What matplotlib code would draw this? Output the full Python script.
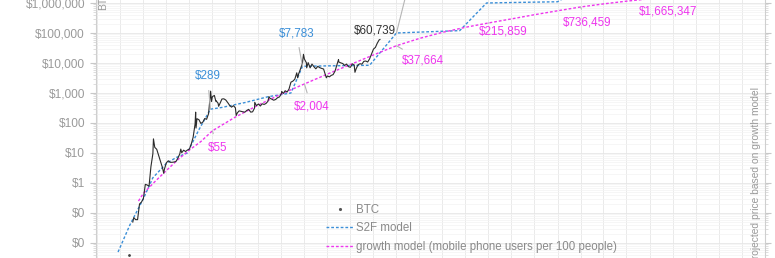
import matplotlib
matplotlib.use("Agg")
import matplotlib.pyplot as plt
import matplotlib.dates as mdates
import matplotlib.ticker as mticker
from matplotlib.lines import Line2D
import pandas as pd
import numpy as np

plt.rcParams['font.family'] = ['Liberation Sans', 'DejaVu Sans']

# ---------------- data ----------------
btc_dates = ["2010-07-17", "2010-08-01", "2010-09-01", "2010-10-01", "2010-11-01", "2010-12-01",
             "2011-01-01", "2011-02-01", "2011-03-01", "2011-04-01", "2011-05-01", "2011-06-01",
             "2011-06-10", "2011-07-01", "2011-08-01", "2011-09-01", "2011-10-01", "2011-11-01",
             "2011-11-20", "2011-12-01", "2012-01-01", "2012-02-01", "2012-03-01", "2012-04-01",
             "2012-05-01", "2012-06-01", "2012-07-01", "2012-08-01", "2012-08-17", "2012-09-01",
             "2012-10-01", "2012-11-01", "2012-12-01", "2013-01-01", "2013-02-01", "2013-03-01",
             "2013-04-01", "2013-04-10", "2013-04-16", "2013-05-01", "2013-06-01", "2013-07-01",
             "2013-08-01", "2013-09-01", "2013-10-01", "2013-11-01", "2013-12-04", "2013-12-18",
             "2014-01-01", "2014-02-01", "2014-02-25", "2014-03-01", "2014-04-01", "2014-04-10",
             "2014-05-01", "2014-06-01", "2014-07-01", "2014-08-01", "2014-09-01", "2014-10-01",
             "2014-11-01", "2014-12-01", "2015-01-01", "2015-01-14", "2015-02-01", "2015-03-01",
             "2015-04-01", "2015-05-01", "2015-06-01", "2015-07-01", "2015-08-01", "2015-09-01",
             "2015-10-01", "2015-11-01", "2015-11-04", "2015-12-01", "2016-01-01", "2016-02-01",
             "2016-03-01", "2016-04-01", "2016-05-01", "2016-06-01", "2016-06-17", "2016-07-01",
             "2016-08-01", "2016-09-01", "2016-10-01", "2016-11-01", "2016-12-01", "2017-01-01",
             "2017-01-05", "2017-02-01", "2017-03-01", "2017-04-01", "2017-05-01", "2017-06-01",
             "2017-07-01", "2017-08-01", "2017-09-01", "2017-09-15", "2017-10-01", "2017-11-01",
             "2017-12-01", "2017-12-17", "2018-01-01", "2018-02-01", "2018-02-06", "2018-03-01",
             "2018-04-01", "2018-05-01", "2018-06-01", "2018-07-01", "2018-08-01", "2018-09-01",
             "2018-10-01", "2018-11-01", "2018-12-01", "2018-12-15", "2019-01-01", "2019-02-01",
             "2019-03-01", "2019-04-01", "2019-05-01", "2019-06-01", "2019-06-26", "2019-07-01",
             "2019-08-01", "2019-09-01", "2019-10-01", "2019-11-01", "2019-12-01", "2020-01-01",
             "2020-02-01", "2020-03-01", "2020-03-13", "2020-04-01", "2020-05-01", "2020-06-01",
             "2020-07-01", "2020-08-01", "2020-09-01", "2020-10-01", "2020-11-01", "2020-12-01",
             "2021-01-01", "2021-02-01", "2021-03-01", "2021-04-01", "2021-04-14"]
btc_price = [0.05, 0.07, 0.06, 0.06, 0.20, 0.23,
             0.30, 0.90, 0.86, 0.78, 3.5, 9.5,
             29.6, 15.4, 13.3, 8.2, 5.1, 3.2,
             2.1, 2.9, 4.7, 5.5, 4.9, 4.9,
             5.0, 5.2, 6.7, 9.3, 13.5, 10.2,
             12.4, 11.2, 12.6, 13.5, 20.4, 33.4,
             93, 230, 68, 139, 129, 97,
             106, 141, 133, 204, 1150, 520,
             755, 830, 530, 550, 457, 360,
             447, 630, 640, 585, 480, 388,
             338, 378, 320, 178, 217, 254,
             244, 236, 230, 263, 285, 230,
             236, 314, 490, 378, 430, 368,
             437, 416, 448, 531, 760, 673,
             624, 575, 609, 698, 742, 963,
             1130, 970, 1190, 1080, 1348, 2300,
             2480, 2875, 4700, 3200, 4340, 6470,
             10000, 19500, 13500, 10200, 6900, 10300,
             6900, 9200, 7500, 6400, 7730, 7000,
             6600, 6300, 4000, 3200, 3700, 3450,
             3850, 4100, 5300, 8600, 13000, 10800,
             10100, 9600, 8300, 9200, 7550, 7200,
             9350, 8600, 4900, 6400, 8700, 9450,
             9140, 11350, 11650, 10780, 13800, 19700,
             29000, 33100, 45100, 58900, 60739]
btc_early_date = ["2010-05-10"]
btc_early_price = [0.004]

s2f_dates = ["2009-11-25", "2010-06-01", "2011-01-01", "2011-06-01", "2012-01-01", "2012-06-01",
             "2012-11-28", "2013-06-01", "2013-12-01", "2014-06-01", "2015-06-01", "2016-06-01",
             "2017-06-01", "2017-12-01", "2018-12-01", "2019-12-01", "2020-11-01", "2022-01-01",
             "2023-06-01", "2024-10-01", "2025-12-01", "2027-06-01", "2029-01-01", "2030-01-01"]
s2f_price = [0.005, 0.04, 0.3, 1.5, 4.5, 7,
             10, 60, 289, 330, 480, 750,
             1000, 7783, 8000, 8200, 8400, 100000,
             110000, 120000, 1000000, 1050000, 1100000, 3000000]

growth_dates = ["2010-10-15", "2011-01-01", "2011-07-01", "2012-01-01", "2012-07-01", "2013-01-01",
                "2013-07-01", "2014-01-01", "2015-01-01", "2016-01-01", "2017-01-01", "2018-01-01",
                "2019-01-01", "2020-01-01", "2021-01-01", "2022-01-01", "2023-01-01", "2024-01-01",
                "2025-01-01", "2026-01-01", "2027-01-01", "2028-01-01", "2029-01-01", "2030-01-01",
                "2031-01-01", "2032-01-01", "2033-01-01", "2034-01-01", "2035-01-01"]
growth_price = [0.25, 0.45, 1.1, 2.6, 6.0, 12.6,
                24, 55, 158, 398, 933, 2004,
                4270, 8900, 18600, 37664, 66000, 105000,
                155000, 215859, 295000, 407000, 550000, 736459,
                933000, 1150000, 1380000, 1665347, 1950000]

s2f_labels = ["2013-12-01", "2017-12-01"]
growth_labels = ["2014-01-01", "2018-01-01", "2022-01-01", "2026-01-01", "2030-01-01", "2034-01-01"]
y_ticks = [0.01, 0.1, 1, 10, 100, 1000, 10000, 100000, 1000000]

# ---------------- style ----------------
BLUE = '#3b8fd8'
MAG = '#ee36ee'
GRID_MAJ = '#e6e6e6'
GRID_MIN = '#f3f3f3'
TXT = '#9a9a9a'

fig = plt.figure(figsize=(7.75, 2.58), dpi=100)
ax = fig.add_axes([96 / 775, 0.0, (765 - 96) / 775, 1.0])

bd = pd.to_datetime(btc_dates)
sd = pd.to_datetime(s2f_dates)
gd = pd.to_datetime(growth_dates)

ax.plot(bd, btc_price, color='#2b2b2b', lw=0.8, zorder=3)
ax.plot(pd.to_datetime(btc_early_date), btc_early_price, ls='none', marker='.', ms=2, color='#444444', zorder=3)
ax.plot(sd, s2f_price, color=BLUE, lw=1.0, ls=(0, (2, 1.4)), zorder=2)
ax.plot(gd, growth_price, color=MAG, lw=1.0, ls=(0, (2, 1.4)), zorder=2)

ax.set_yscale('log')
ax.set_ylim(10 ** -2.5, 10 ** 6.1)
ax.set_xlim(pd.Timestamp("2008-12-10"), pd.Timestamp("2038-01-08"))

ax.yaxis.set_major_locator(mticker.FixedLocator(y_ticks))
ax.yaxis.set_minor_locator(mticker.LogLocator(base=10, subs=np.arange(2, 10), numticks=20))
ax.yaxis.set_major_formatter(mticker.FuncFormatter(lambda v, p: f"${v:,.0f}"))
ax.yaxis.set_minor_formatter(mticker.NullFormatter())
ax.xaxis.set_major_locator(mdates.YearLocator(1))
ax.xaxis.set_major_formatter(mticker.NullFormatter())

ax.tick_params(axis='y', which='major', labelsize=8.6, labelcolor=TXT, color='#c8c8c8',
               length=4, width=0.8, pad=4, right=True, labelright=False)
ax.tick_params(axis='y', which='minor', color='#d8d8d8', length=2, width=0.6, right=True)
ax.tick_params(axis='x', which='both', length=0)

ax.grid(True, which='major', axis='both', color=GRID_MAJ, lw=0.6)
ax.grid(True, which='minor', axis='y', color=GRID_MIN, lw=0.5)
ax.set_axisbelow(True)

for s in ['top', 'bottom']:
    ax.spines[s].set_visible(False)
for s in ['left', 'right']:
    ax.spines[s].set_color('#cfcfcf')
    ax.spines[s].set_linewidth(0.8)

PX = 0.72  # points per pixel


def label(date, dates, values, color, dx, dy, line=True):
    d = pd.Timestamp(date)
    v = values[list(pd.to_datetime(dates)).index(d)]
    ax.annotate(f"${v:,.0f}", xy=(d, v), xytext=(dx * PX, dy * PX), textcoords='offset points',
                ha='center', va='center', color=color, fontsize=8.4,
                arrowprops=dict(arrowstyle='-', color='#b5b5b5', lw=0.8, shrinkA=4, shrinkB=0) if line else None,
                zorder=5, annotation_clip=False)


label(s2f_labels[0], s2f_dates, s2f_price, BLUE, -3, 33)
label(s2f_labels[1], s2f_dates, s2f_price, BLUE, -6, 33)
label("2021-04-14", btc_dates, btc_price, '#333333', -5, 9, line=False)
offs = [(5, -17), (7, -23), (26, -15), (15, -9), (7, -16), (-4, -15)]
for d, (dx, dy) in zip(growth_labels, offs):
    label(d, growth_dates, growth_price, MAG, dx, dy)

# pointer of a label sitting above the visible area
ax.annotate("", xy=(pd.Timestamp("2022-01-01"), 100000), xytext=(10 * PX, 40 * PX),
            textcoords='offset points',
            arrowprops=dict(arrowstyle='-', color='#b5b5b5', lw=0.8, shrinkA=0, shrinkB=0),
            annotation_clip=False)

# axis titles (partly outside the visible crop, as in the reference)
fig.text(103 / 775, 1 - 10 / 258, "BTC", rotation=90, ha='center', va='bottom', color=TXT, fontsize=7.5)
fig.text(756 / 775, 1 - 175 / 258, "projected price based on growth model", rotation=90,
         ha='center', va='center', color=TXT, fontsize=7.4)

handles = [Line2D([], [], ls='none', marker='.', ms=2.5, color='#555555'),
           Line2D([], [], color=BLUE, lw=1.0, ls=(0, (2, 1.4))),
           Line2D([], [], color=MAG, lw=1.0, ls=(0, (2, 1.4)))]
names = ["BTC", "S2F model", "growth model (mobile phone users per 100 people)"]
leg = ax.legend(handles, names, loc='upper left', bbox_to_anchor=(326 / 775, 1 - 204 / 258),
                bbox_transform=fig.transFigure, frameon=False, fontsize=8.3,
                handlelength=2.4, handletextpad=0.2, labelspacing=0.55, borderaxespad=0, borderpad=0)
for t in leg.get_texts():
    t.set_color('#8a8a8a')

fig.savefig("out.png", dpi=100)
